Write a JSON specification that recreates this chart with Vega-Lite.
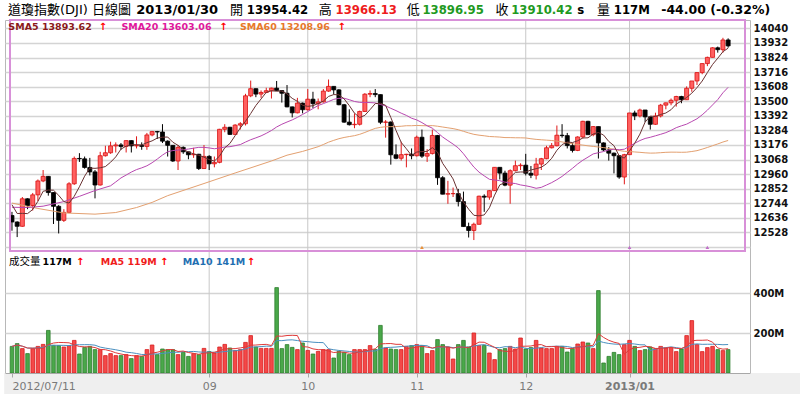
{
"$schema":"https://vega.github.io/schema/vega-lite/v6.json",
"autosize":{"type":"none"},
"width":745,"height":353,
"padding":{"left":5,"top":20,"right":50,"bottom":21},
"background":"#ffffff",
"config":{"view":{"stroke":"#b8b8b8","strokeWidth":1,"fill":"#ffffff"},"font":"DejaVu Sans, Noto Sans CJK TC, sans-serif","text":{"align":"left","baseline":"alphabetic","font":"DejaVu Sans, Noto Sans CJK TC, sans-serif"}},
"datasets":{"k":[
{"d":"2012-07-11","i":0,"o":12653,"h":12680,"l":12540,"c":12605,"v":133,"s5":12732.6,"s20":12714,"s60":12745,"m5":133,"m10":133},
{"d":"2012-07-12","i":1,"o":12605,"h":12610,"l":12493,"c":12573,"v":147,"s5":12667.8,"m5":140,"m10":140},
{"d":"2012-07-13","i":2,"o":12573,"h":12790,"l":12570,"c":12777,"v":122,"s5":12668.8,"m5":134,"m10":134},
{"d":"2012-07-16","i":3,"o":12777,"h":12780,"l":12700,"c":12727,"v":97,"s5":12667,"s20":12712,"m5":124.8,"m10":124.8},
{"d":"2012-07-17","i":4,"o":12727,"h":12820,"l":12690,"c":12806,"v":122,"s5":12697.6,"m5":124.2,"m10":124.2},
{"d":"2012-07-18","i":5,"o":12806,"h":12920,"l":12760,"c":12909,"v":133,"s5":12758.4,"s60":12705,"m5":124.2,"m10":125.7},
{"d":"2012-07-19","i":6,"o":12909,"h":12990,"l":12900,"c":12943,"v":143,"s5":12832.4,"s20":12722,"m5":123.4,"m10":128.1},
{"d":"2012-07-20","i":7,"o":12943,"h":12945,"l":12800,"c":12823,"v":213,"s5":12841.6,"m5":141.6,"m10":138.8},
{"d":"2012-07-23","i":8,"o":12823,"h":12825,"l":12590,"c":12721,"v":138,"s5":12840.4,"m5":149.8,"m10":138.7},
{"d":"2012-07-24","i":9,"o":12721,"h":12730,"l":12520,"c":12617,"v":137,"s5":12802.6,"m5":152.8,"m10":138.5},
{"d":"2012-07-25","i":10,"o":12617,"h":12700,"l":12605,"c":12676,"v":130,"s5":12756,"s20":12756,"s60":12672,"m5":152.2,"m10":138.2},
{"d":"2012-07-26","i":11,"o":12676,"h":12900,"l":12670,"c":12888,"v":137,"s5":12745,"m5":151,"m10":137.2},
{"d":"2012-07-27","i":12,"o":12888,"h":13090,"l":12880,"c":13076,"v":163,"s5":12795.6,"m5":141,"m10":141.3},
{"d":"2012-07-30","i":13,"o":13076,"h":13115,"l":13050,"c":13073,"v":95,"s5":12866,"s20":12795,"m5":132.4,"m10":141.1},
{"d":"2012-07-31","i":14,"o":13073,"h":13090,"l":13000,"c":13009,"v":128,"s5":12944.4,"m5":130.6,"m10":141.7},
{"d":"2012-08-01","i":15,"o":13009,"h":13080,"l":12950,"c":12976,"v":133,"s5":13004.4,"m5":131.2,"m10":141.7},
{"d":"2012-08-02","i":16,"o":12976,"h":12990,"l":12780,"c":12879,"v":117,"s5":13002.6,"s20":12838,"s60":12663,"m5":127.2,"m10":139.1},
{"d":"2012-08-03","i":17,"o":12879,"h":13125,"l":12875,"c":13096,"v":117,"s5":13006.6,"m5":118,"m10":129.5},
{"d":"2012-08-06","i":18,"o":13096,"h":13170,"l":13090,"c":13118,"v":87,"s5":13015.6,"m5":116.4,"m10":124.4},
{"d":"2012-08-07","i":19,"o":13118,"h":13200,"l":13110,"c":13169,"v":97,"s5":13047.6,"s20":12873.1,"m5":110.2,"m10":120.4},
{"d":"2012-08-08","i":20,"o":13169,"h":13195,"l":13120,"c":13176,"v":87,"s5":13087.6,"s20":12901.6,"s60":12675,"m5":101,"m10":116.1},
{"d":"2012-08-09","i":21,"o":13176,"h":13190,"l":13140,"c":13165,"v":87,"s5":13144.8,"s20":12931.2,"m5":95,"m10":111.1},
{"d":"2012-08-10","i":22,"o":13165,"h":13210,"l":13120,"c":13208,"v":92,"s5":13167.2,"s20":12952.8,"m5":90,"m10":104},
{"d":"2012-08-13","i":23,"o":13208,"h":13210,"l":13120,"c":13169,"v":72,"s5":13177.4,"s20":12974.9,"m5":87,"m10":101.7},
{"d":"2012-08-14","i":24,"o":13169,"h":13240,"l":13150,"c":13172,"v":87,"s5":13178,"s20":12993.2,"s60":12712,"m5":85,"m10":97.6},
{"d":"2012-08-15","i":25,"o":13172,"h":13195,"l":13140,"c":13165,"v":83,"s5":13175.8,"s20":13006,"m5":84.2,"m10":92.6},
{"d":"2012-08-16","i":26,"o":13165,"h":13265,"l":13140,"c":13250,"v":117,"s5":13192.8,"s20":13021.3,"m5":90.2,"m10":92.6},
{"d":"2012-08-17","i":27,"o":13250,"h":13280,"l":13240,"c":13275,"v":140,"s5":13206.2,"s20":13043.9,"s60":12750,"m5":99.8,"m10":94.9},
{"d":"2012-08-20","i":28,"o":13275,"h":13280,"l":13220,"c":13272,"v":92,"s5":13226.8,"s20":13071.5,"m5":103.8,"m10":95.4},
{"d":"2012-08-21","i":29,"o":13272,"h":13330,"l":13190,"c":13204,"v":120,"s5":13233.2,"s20":13100.8,"m5":110.4,"m10":97.7},
{"d":"2012-08-22","i":30,"o":13204,"h":13210,"l":13090,"c":13173,"v":117,"s5":13234.8,"s20":13125.7,"s60":12800,"m5":117.2,"m10":100.7},
{"d":"2012-08-23","i":31,"o":13173,"h":13175,"l":13050,"c":13057,"v":117,"s5":13196.2,"s20":13134.1,"m5":117.2,"m10":103.7},
{"d":"2012-08-24","i":32,"o":13057,"h":13175,"l":12990,"c":13158,"v":92,"s5":13172.8,"s20":13138.2,"m5":107.6,"m10":103.7},
{"d":"2012-08-27","i":33,"o":13158,"h":13165,"l":13110,"c":13125,"v":103,"s5":13143.4,"s20":13140.8,"m5":109.8,"m10":106.8},
{"d":"2012-08-28","i":34,"o":13125,"h":13125,"l":13070,"c":13103,"v":83,"s5":13123.2,"s20":13145.5,"m5":102.4,"m10":106.4},
{"d":"2012-08-29","i":35,"o":13103,"h":13155,"l":13080,"c":13107,"v":97,"s5":13110,"s20":13152,"m5":98.4,"m10":107.8},
{"d":"2012-08-30","i":36,"o":13107,"h":13110,"l":12990,"c":13001,"v":92,"s5":13098.8,"s20":13158.2,"m5":93.4,"m10":105.3},
{"d":"2012-08-31","i":37,"o":13001,"h":13175,"l":13000,"c":13091,"v":123,"s5":13085.4,"s20":13157.9,"s60":12890,"m5":99.6,"m10":103.6},
{"d":"2012-09-04","i":38,"o":13091,"h":13100,"l":12990,"c":13036,"v":107,"s5":13067.6,"s20":13153.8,"m5":100.4,"m10":105.1},
{"d":"2012-09-05","i":39,"o":13036,"h":13090,"l":13010,"c":13047,"v":100,"s5":13056.4,"s20":13147.7,"m5":103.8,"m10":103.1},
{"d":"2012-09-06","i":40,"o":13047,"h":13295,"l":13040,"c":13292,"v":130,"s5":13093.4,"s20":13153.5,"m5":110.4,"m10":104.4},
{"d":"2012-09-07","i":41,"o":13292,"h":13330,"l":13270,"c":13307,"v":143,"s5":13154.6,"s20":13160.6,"m5":120.6,"m10":107},
{"d":"2012-09-10","i":42,"o":13307,"h":13310,"l":13250,"c":13254,"v":125,"s5":13187.2,"s20":13162.9,"m5":121,"m10":110.3},
{"d":"2012-09-11","i":43,"o":13254,"h":13330,"l":13250,"c":13323,"v":112,"s5":13244.6,"s20":13170.6,"s60":12968,"m5":122,"m10":111.2},
{"d":"2012-09-12","i":44,"o":13323,"h":13345,"l":13290,"c":13333,"v":117,"s5":13301.8,"s20":13178.7,"m5":125.4,"m10":114.6},
{"d":"2012-09-13","i":45,"o":13333,"h":13555,"l":13320,"c":13540,"v":153,"s5":13351.4,"s20":13197.4,"m5":130,"m10":120.2},
{"d":"2012-09-14","i":46,"o":13540,"h":13653,"l":13530,"c":13593,"v":187,"s5":13408.6,"s20":13214.6,"m5":138.8,"m10":129.7},
{"d":"2012-09-17","i":47,"o":13593,"h":13595,"l":13530,"c":13553,"v":130,"s5":13468.4,"s20":13228.5,"m5":139.8,"m10":130.4},
{"d":"2012-09-18","i":48,"o":13553,"h":13580,"l":13525,"c":13565,"v":123,"s5":13516.8,"s20":13243.1,"m5":142,"m10":132},
{"d":"2012-09-19","i":49,"o":13565,"h":13600,"l":13560,"c":13578,"v":123,"s5":13565.8,"s20":13261.8,"m5":143.2,"m10":134.3},
{"d":"2012-09-20","i":50,"o":13578,"h":13600,"l":13520,"c":13597,"v":123,"s5":13577.2,"s20":13283,"s60":13057,"m5":137.2,"m10":133.6},
{"d":"2012-09-21","i":51,"o":13597,"h":13650,"l":13575,"c":13579,"v":427,"s5":13574.4,"s20":13309.1,"m5":185.2,"m10":162},
{"d":"2012-09-24","i":52,"o":13579,"h":13580,"l":13490,"c":13559,"v":122,"s5":13575.6,"s20":13329.2,"m5":183.6,"m10":161.7},
{"d":"2012-09-25","i":53,"o":13559,"h":13620,"l":13455,"c":13458,"v":142,"s5":13554.2,"s20":13345.8,"s60":13100,"m5":187.4,"m10":164.7},
{"d":"2012-09-26","i":54,"o":13458,"h":13460,"l":13380,"c":13414,"v":128,"s5":13521.4,"s20":13361.4,"m5":188.4,"m10":165.8},
{"d":"2012-09-27","i":55,"o":13414,"h":13525,"l":13410,"c":13486,"v":117,"s5":13499.2,"s20":13380.3,"m5":187.2,"m10":162.2},
{"d":"2012-09-28","i":56,"o":13486,"h":13490,"l":13410,"c":13437,"v":150,"s5":13470.8,"s20":13402.1,"s60":13128,"m5":131.8,"m10":158.5},
{"d":"2012-10-01","i":57,"o":13437,"h":13590,"l":13430,"c":13515,"v":113,"s5":13462,"s20":13423.3,"m5":130,"m10":156.8},
{"d":"2012-10-02","i":58,"o":13515,"h":13570,"l":13450,"c":13482,"v":95,"s5":13466.8,"s20":13445.6,"m5":120.6,"m10":154},
{"d":"2012-10-03","i":59,"o":13482,"h":13520,"l":13440,"c":13495,"v":108,"s5":13483,"s20":13468,"s60":13162.9,"m5":116.6,"m10":152.5},
{"d":"2012-10-04","i":60,"o":13495,"h":13590,"l":13490,"c":13575,"v":117,"s5":13500.8,"s20":13482.2,"s60":13179.1,"m5":116.6,"m10":151.9},
{"d":"2012-10-05","i":61,"o":13575,"h":13661,"l":13570,"c":13610,"v":117,"s5":13535.4,"s20":13497.3,"s60":13196.4,"m5":110,"m10":120.9},
{"d":"2012-10-08","i":62,"o":13610,"h":13610,"l":13550,"c":13584,"v":75,"s5":13549.2,"s20":13513.8,"s60":13209.8,"m5":102.4,"m10":116.2},
{"d":"2012-10-09","i":63,"o":13584,"h":13590,"l":13470,"c":13474,"v":108,"s5":13547.6,"s20":13521.4,"s60":13222.3,"m5":105,"m10":112.8},
{"d":"2012-10-10","i":64,"o":13474,"h":13480,"l":13340,"c":13345,"v":103,"s5":13517.6,"s20":13522,"s60":13231.3,"m5":104,"m10":110.3},
{"d":"2012-10-11","i":65,"o":13345,"h":13440,"l":13320,"c":13326,"v":92,"s5":13467.8,"s20":13511.3,"s60":13238.2,"m5":99,"m10":107.8},
{"d":"2012-10-12","i":66,"o":13326,"h":13410,"l":13300,"c":13329,"v":117,"s5":13411.6,"s20":13498.1,"s60":13244.6,"m5":99,"m10":104.5},
{"d":"2012-10-15","i":67,"o":13329,"h":13430,"l":13320,"c":13424,"v":117,"s5":13379.6,"s20":13491.6,"s60":13254.7,"m5":107.4,"m10":104.9},
{"d":"2012-10-16","i":68,"o":13424,"h":13560,"l":13420,"c":13552,"v":117,"s5":13395.2,"s20":13491,"s60":13268.5,"m5":109.2,"m10":107.1},
{"d":"2012-10-17","i":69,"o":13552,"h":13580,"l":13530,"c":13557,"v":137,"s5":13437.6,"s20":13489.9,"s60":13284.2,"m5":116,"m10":110},
{"d":"2012-10-18","i":70,"o":13557,"h":13590,"l":13530,"c":13549,"v":117,"s5":13482.2,"s20":13487.5,"s60":13298.7,"m5":121,"m10":110},
{"d":"2012-10-19","i":71,"o":13549,"h":13550,"l":13330,"c":13344,"v":238,"s5":13485.2,"s20":13475.8,"s60":13306.3,"m5":145.2,"m10":122.1},
{"d":"2012-10-22","i":72,"o":13344,"h":13360,"l":13230,"c":13346,"v":125,"s5":13469.6,"s20":13465.1,"s60":13310.8,"m5":146.8,"m10":127.1},
{"d":"2012-10-23","i":73,"o":13346,"h":13350,"l":13030,"c":13103,"v":120,"s5":13379.8,"s20":13447.4,"s60":13311.3,"m5":147.4,"m10":128.3},
{"d":"2012-10-24","i":74,"o":13103,"h":13180,"l":13070,"c":13077,"v":117,"s5":13283.8,"s20":13430.5,"s60":13312.5,"m5":143.4,"m10":129.7},
{"d":"2012-10-25","i":75,"o":13077,"h":13200,"l":13060,"c":13104,"v":117,"s5":13194.8,"s20":13411.4,"s60":13314.6,"m5":143.4,"m10":132.2},
{"d":"2012-10-26","i":76,"o":13104,"h":13110,"l":13010,"c":13107,"v":133,"s5":13147.4,"s20":13394.9,"s60":13318.4,"m5":122.4,"m10":133.8},
{"d":"2012-10-31","i":77,"o":13107,"h":13150,"l":13070,"c":13096,"v":137,"s5":13097.4,"s20":13374,"s60":13318.4,"m5":124.8,"m10":135.8},
{"d":"2012-11-01","i":78,"o":13096,"h":13245,"l":13090,"c":13233,"v":142,"s5":13123.4,"s20":13361.5,"s60":13320.3,"m5":129.2,"m10":138.3},
{"d":"2012-11-02","i":79,"o":13233,"h":13290,"l":13080,"c":13093,"v":137,"s5":13126.6,"s20":13341.4,"s60":13319,"m5":133.2,"m10":138.3},
{"d":"2012-11-05","i":80,"o":13093,"h":13145,"l":13050,"c":13112,"v":97,"s5":13128.2,"s20":13318.3,"s60":13318,"m5":129.2,"m10":136.3},
{"d":"2012-11-06","i":81,"o":13112,"h":13290,"l":13105,"c":13246,"v":112,"s5":13156,"s20":13300.1,"s60":13319.3,"m5":125,"m10":123.7},
{"d":"2012-11-07","i":82,"o":13246,"h":13250,"l":12880,"c":12933,"v":167,"s5":13123.4,"s20":13267.5,"s60":13314.7,"m5":131,"m10":127.9},
{"d":"2012-11-08","i":83,"o":12933,"h":12945,"l":12810,"c":12811,"v":142,"s5":13039,"s20":13234.4,"s60":13308.8,"m5":131,"m10":130.1},
{"d":"2012-11-09","i":84,"o":12811,"h":12910,"l":12740,"c":12815,"v":130,"s5":12983.4,"s20":13207.9,"s60":13302.8,"m5":129.6,"m10":131.4},
{"d":"2012-11-12","i":85,"o":12815,"h":12860,"l":12790,"c":12815,"v":70,"s5":12924,"s20":13182.3,"s60":13297,"m5":124.2,"m10":126.7},
{"d":"2012-11-13","i":86,"o":12815,"h":12850,"l":12720,"c":12756,"v":142,"s5":12826,"s20":13153.7,"s60":13288.8,"m5":130.2,"m10":127.6},
{"d":"2012-11-14","i":87,"o":12756,"h":12830,"l":12570,"c":12571,"v":163,"s5":12753.6,"s20":13111,"s60":13277,"m5":129.4,"m10":130.2},
{"d":"2012-11-15","i":88,"o":12571,"h":12600,"l":12490,"c":12542,"v":130,"s5":12699.8,"s20":13060.5,"s60":13264.9,"m5":127,"m10":129},
{"d":"2012-11-16","i":89,"o":12542,"h":12600,"l":12471,"c":12588,"v":200,"s5":12654.4,"s20":13012.1,"s60":13254.6,"m5":141,"m10":135.3},
{"d":"2012-11-19","i":90,"o":12588,"h":12800,"l":12585,"c":12796,"v":137,"s5":12650.6,"s20":12974.4,"s60":13248.3,"m5":154.4,"m10":139.3},
{"d":"2012-11-20","i":91,"o":12796,"h":12810,"l":12680,"c":12789,"v":138,"s5":12657.2,"s20":12946.7,"s60":13243.8,"m5":153.6,"m10":141.9},
{"d":"2012-11-21","i":92,"o":12789,"h":12840,"l":12770,"c":12837,"v":100,"s5":12710.4,"s20":12921.2,"s60":13238.5,"m5":141,"m10":135.2},
{"d":"2012-11-23","i":93,"o":12837,"h":13010,"l":12835,"c":13010,"v":67,"s5":12804,"s20":12916.6,"s60":13236.6,"m5":128.4,"m10":127.7},
{"d":"2012-11-26","i":94,"o":13010,"h":13010,"l":12920,"c":12967,"v":117,"s5":12879.8,"s20":12911.1,"s60":13234.3,"m5":111.8,"m10":126.4},
{"d":"2012-11-27","i":95,"o":12967,"h":12985,"l":12870,"c":12878,"v":122,"s5":12896.2,"s20":12899.8,"s60":13230.5,"m5":108.8,"m10":131.6},
{"d":"2012-11-28","i":96,"o":12878,"h":12995,"l":12740,"c":12985,"v":133,"s5":12935.4,"s20":12893.7,"s60":13230.2,"m5":107.8,"m10":130.7},
{"d":"2012-11-29","i":97,"o":12985,"h":13060,"l":12980,"c":13022,"v":120,"s5":12972.4,"s20":12890,"s60":13229.1,"m5":111.8,"m10":126.4},
{"d":"2012-11-30","i":98,"o":13022,"h":13040,"l":12990,"c":13026,"v":175,"s5":12975.6,"s20":12879.6,"s60":13228.9,"m5":133.4,"m10":130.9},
{"d":"2012-12-03","i":99,"o":13026,"h":13110,"l":12950,"c":12966,"v":120,"s5":12975.4,"s20":12873.3,"s60":13227.6,"m5":134,"m10":122.9},
{"d":"2012-12-04","i":100,"o":12966,"h":13020,"l":12930,"c":12952,"v":127,"s5":12990.2,"s20":12865.3,"s60":13221.9,"m5":135,"m10":121.9},
{"d":"2012-12-05","i":101,"o":12952,"h":13080,"l":12920,"c":13034,"v":163,"s5":13000,"s20":12854.7,"s60":13217.3,"m5":141,"m10":124.4},
{"d":"2012-12-06","i":102,"o":13034,"h":13080,"l":12990,"c":13074,"v":125,"s5":13010.4,"s20":12861.7,"s60":13214.3,"m5":142,"m10":126.9},
{"d":"2012-12-07","i":103,"o":13074,"h":13170,"l":13070,"c":13155,"v":122,"s5":13036.2,"s20":12878.9,"s60":13211.5,"m5":131.4,"m10":132.4},
{"d":"2012-12-10","i":104,"o":13155,"h":13190,"l":13150,"c":13170,"v":122,"s5":13077,"s20":12896.7,"s60":13208.8,"m5":131.8,"m10":132.9},
{"d":"2012-12-11","i":105,"o":13170,"h":13320,"l":13165,"c":13248,"v":133,"s5":13136.2,"s20":12918.3,"s60":13204,"m5":133,"m10":134},
{"d":"2012-12-12","i":106,"o":13248,"h":13330,"l":13230,"c":13245,"v":133,"s5":13178.4,"s20":12942.8,"s60":13198.2,"m5":127,"m10":134},
{"d":"2012-12-13","i":107,"o":13245,"h":13265,"l":13150,"c":13171,"v":105,"s5":13197.8,"s20":12972.8,"s60":13191.8,"m5":123,"m10":132.5},
{"d":"2012-12-14","i":108,"o":13171,"h":13190,"l":13120,"c":13135,"v":122,"s5":13193.8,"s20":13002.4,"s60":13184.6,"m5":123,"m10":127.2},
{"d":"2012-12-17","i":109,"o":13135,"h":13240,"l":13130,"c":13235,"v":145,"s5":13206.8,"s20":13034.8,"s60":13178.9,"m5":127.6,"m10":129.7},
{"d":"2012-12-18","i":110,"o":13235,"h":13355,"l":13225,"c":13351,"v":155,"s5":13227.4,"s20":13062.5,"s60":13174.8,"m5":132,"m10":132.5},
{"d":"2012-12-19","i":111,"o":13351,"h":13355,"l":13250,"c":13252,"v":150,"s5":13228.8,"s20":13085.7,"s60":13169.4,"m5":135.4,"m10":131.2},
{"d":"2012-12-20","i":112,"o":13252,"h":13315,"l":13240,"c":13312,"v":122,"s5":13257,"s20":13109.4,"s60":13165.2,"m5":138.8,"m10":130.9},
{"d":"2012-12-21","i":113,"o":13312,"h":13312,"l":13075,"c":13191,"v":412,"s5":13268.2,"s20":13118.5,"s60":13160.8,"m5":196.8,"m10":159.9},
{"d":"2012-12-24","i":114,"o":13191,"h":13195,"l":13130,"c":13139,"v":50,"s5":13249,"s20":13127.1,"s60":13156.2,"m5":177.8,"m10":152.7},
{"d":"2012-12-26","i":115,"o":13139,"h":13160,"l":13060,"c":13115,"v":83,"s5":13201.8,"s20":13138.9,"s60":13150,"m5":163.4,"m10":147.7},
{"d":"2012-12-27","i":116,"o":13115,"h":13120,"l":12965,"c":13096,"v":103,"s5":13170.6,"s20":13144.5,"s60":13144.3,"m5":154,"m10":144.7},
{"d":"2012-12-28","i":117,"o":13096,"h":13100,"l":12925,"c":12938,"v":92,"s5":13095.8,"s20":13140.3,"s60":13134.7,"m5":148,"m10":143.4},
{"d":"2012-12-31","i":118,"o":12938,"h":13110,"l":12884,"c":13104,"v":142,"s5":13078.4,"s20":13144.2,"s60":13128.4,"m5":94,"m10":145.4},
{"d":"2013-01-02","i":119,"o":13104,"h":13413,"l":13104,"c":13413,"v":163,"s5":13133.2,"s20":13166.5,"s60":13127.1,"m5":116.6,"m10":147.2},
{"d":"2013-01-03","i":120,"o":13413,"h":13430,"l":13360,"c":13391,"v":133,"s5":13188.4,"s20":13188.5,"s60":13124,"m5":126.6,"m10":145},
{"d":"2013-01-04","i":121,"o":13391,"h":13445,"l":13380,"c":13435,"v":112,"s5":13256.2,"s20":13208.5,"s60":13121.1,"m5":128.4,"m10":141.2},
{"d":"2013-01-07","i":122,"o":13435,"h":13435,"l":13345,"c":13384,"v":117,"s5":13345.4,"s20":13224,"s60":13117.7,"m5":133.4,"m10":140.7},
{"d":"2013-01-08","i":123,"o":13384,"h":13385,"l":13290,"c":13329,"v":130,"s5":13390.4,"s20":13232.7,"s60":13115.3,"m5":131,"m10":112.5},
{"d":"2013-01-09","i":124,"o":13329,"h":13415,"l":13325,"c":13391,"v":122,"s5":13386,"s20":13243.8,"s60":13116.1,"m5":122.8,"m10":119.7},
{"d":"2013-01-10","i":125,"o":13391,"h":13480,"l":13380,"c":13471,"v":133,"s5":13402,"s20":13254.9,"s60":13118.5,"m5":122.8,"m10":124.7},
{"d":"2013-01-11","i":126,"o":13471,"h":13490,"l":13440,"c":13488,"v":125,"s5":13412.6,"s20":13267.1,"s60":13121.2,"m5":125.4,"m10":126.9},
{"d":"2013-01-14","i":127,"o":13488,"h":13520,"l":13470,"c":13507,"v":128,"s5":13437.2,"s20":13283.9,"s60":13122.5,"m5":127.6,"m10":130.5},
{"d":"2013-01-15","i":128,"o":13507,"h":13540,"l":13460,"c":13535,"v":107,"s5":13478.4,"s20":13303.9,"s60":13122.3,"m5":123,"m10":127},
{"d":"2013-01-16","i":129,"o":13535,"h":13540,"l":13485,"c":13511,"v":120,"s5":13502.4,"s20":13317.7,"s60":13121.5,"m5":122.6,"m10":122.7},
{"d":"2013-01-17","i":130,"o":13511,"h":13610,"l":13510,"c":13596,"v":187,"s5":13527.4,"s20":13329.9,"s60":13122.3,"m5":133.4,"m10":128.1},
{"d":"2013-01-18","i":131,"o":13596,"h":13650,"l":13570,"c":13650,"v":262,"s5":13559.8,"s20":13349.8,"s60":13127.4,"m5":160.8,"m10":143.1},
{"d":"2013-01-22","i":132,"o":13650,"h":13715,"l":13620,"c":13712,"v":142,"s5":13600.8,"s20":13369.8,"s60":13133.5,"m5":163.6,"m10":145.6},
{"d":"2013-01-23","i":133,"o":13712,"h":13780,"l":13700,"c":13779,"v":107,"s5":13649.6,"s20":13399.2,"s60":13144.7,"m5":163.6,"m10":143.3},
{"d":"2013-01-24","i":134,"o":13779,"h":13830,"l":13760,"c":13825,"v":127,"s5":13712.4,"s20":13433.5,"s60":13157.2,"m5":165,"m10":143.8},
{"d":"2013-01-25","i":135,"o":13825,"h":13900,"l":13825,"c":13896,"v":133,"s5":13772.4,"s20":13472.6,"s60":13170.4,"m5":154.2,"m10":143.8},
{"d":"2013-01-28","i":136,"o":13896,"h":13905,"l":13860,"c":13882,"v":117,"s5":13818.8,"s20":13511.9,"s60":13183.3,"m5":125.2,"m10":143},
{"d":"2013-01-29","i":137,"o":13882,"h":13970,"l":13860,"c":13954,"v":112,"s5":13867.2,"s20":13562.7,"s60":13197.6,"m5":119.2,"m10":141.4},
{"d":"2013-01-30","i":138,"o":13954,"h":13966,"l":13897,"c":13910,"v":117,"s5":13893.4,"s20":13603,"s60":13209,"m5":121.2,"m10":142.4}
]},
"data":{"name":"k"},
"resolve":{"scale":{"y":"independent"}},
"layer":[
{"layer":[
  {"data":{"values":[{"m":"2012-09","i":38},{"m":"2012-10","i":57},{"m":"2012-11","i":78},{"m":"2012-12","i":99},{"m":"2013-01","i":119}]},
   "mark":{"type":"rule","color":"#c8c8c8","strokeWidth":1},"encoding":{"x":{"field":"i","type":"quantitative"}}},
  {"mark":{"type":"rule","strokeWidth":1},
   "encoding":{
    "x":{"field":"i","type":"quantitative","scale":{"domain":[-0.38,141.25],"nice":false,"zero":false},
      "axis":{"orient":"bottom","values":[0,38,57,78,99,119],"tickCount":40,"title":null,"zindex":1,
        "labelExpr":"datum.value == 0 ? '2012/07/11' : datum.value == 38 ? '09' : datum.value == 57 ? '10' : datum.value == 78 ? '11' : datum.value == 99 ? '12' : '2013/01'",
        "grid":false,
        "domainColor":"#a8a8a8","tickColor":"#a8a8a8","tickSize":4,"labelColor":"#7a7a7a","labelFontSize":11,"labelPadding":3,
        "labelFontWeight":{"condition":{"test":"datum.value == 119","value":"bold"},"value":"normal"},
        "labelAlign":{"condition":{"test":"datum.value == 0","value":"left"},"value":"center"},
        "labelFlush":false,"labelOverlap":false}},
    "y":{"field":"l","type":"quantitative","scale":{"domain":[11485.6,14102],"nice":false,"zero":false},
      "axis":{"orient":"right","values":[12420,12528,12636,12744,12852,12960,13068,13176,13284,13392,13500,13608,13716,13824,13932,14040],"tickCount":40,
        "labelExpr":"datum.value < 12500 ? '' : format(datum.value, 'd')","title":null,"domain":false,"ticks":false,"labelPadding":3,
        "labelFontSize":10,"labelFontWeight":"bold","labelColor":"#111111","grid":true,"gridColor":"#d4d4d4","gridWidth":1.5,"labelFlush":false,"labelOverlap":false}},
    "y2":{"field":"h"},
    "color":{"condition":{"test":"datum.c >= datum.o","value":"#e01818"},"value":"#000000"}}},
  {"mark":{"type":"bar","size":4,"strokeWidth":0.8},
   "encoding":{"x":{"field":"i","type":"quantitative"},"y":{"field":"o","type":"quantitative"},"y2":{"field":"c"},
    "fill":{"condition":{"test":"datum.c >= datum.o","value":"#ff6060"},"value":"#000000"},
    "stroke":{"condition":{"test":"datum.c >= datum.o","value":"#d81010"},"value":"#000000"}}},
  {"transform":[{"filter":"isValid(datum.s60)"}],"mark":{"type":"line","strokeWidth":1,"color":"#e3a070"},"encoding":{"x":{"field":"i","type":"quantitative"},"y":{"field":"s60","type":"quantitative"}}},
  {"transform":[{"filter":"isValid(datum.s20)"}],"mark":{"type":"line","strokeWidth":1,"color":"#b848b0"},"encoding":{"x":{"field":"i","type":"quantitative"},"y":{"field":"s20","type":"quantitative"}}},
  {"mark":{"type":"line","strokeWidth":1,"color":"#6a3232"},"encoding":{"x":{"field":"i","type":"quantitative"},"y":{"field":"s5","type":"quantitative"}}},
  {"data":{"values":[{"i":79,"k":"o"},{"i":119,"k":"p"},{"i":134,"k":"p"}]},
   "mark":{"type":"point","shape":"triangle-up","filled":true,"size":14,"opacity":1},
   "encoding":{"x":{"field":"i","type":"quantitative"},"y":{"datum":12416,"type":"quantitative"},
    "color":{"condition":{"test":"datum.k == 'o'","value":"#e8903a"},"value":"#c070c8"}}},
  {"data":{"values":[{"t":"frame"}]},"mark":{"type":"rect","fillOpacity":0,"stroke":"#d890d8","strokeWidth":2},
   "encoding":{"x":{"datum":-0.38,"type":"quantitative"},"x2":{"datum":141.25},"y":{"datum":14102,"type":"quantitative"},"y2":{"datum":12389}}},
  {"data":{"values":[{"t":"道瓊指數(DJI)"}]},"mark":{"type":"text","fontSize":13,"color":"#000000"},"encoding":{"x":{"datum":-0.76,"type":"quantitative"},"y":{"datum":14144,"type":"quantitative"},"text":{"field":"t"}}},
  {"data":{"values":[{"t":"日線圖"}]},"mark":{"type":"text","fontSize":13,"color":"#000000"},"encoding":{"x":{"datum":15.4,"type":"quantitative"},"y":{"datum":14144,"type":"quantitative"},"text":{"field":"t"}}},
  {"data":{"values":[{"t":"2013/01/30"}]},"mark":{"type":"text","fontSize":13,"fontWeight":"bold","color":"#000000"},"encoding":{"x":{"datum":23.95,"type":"quantitative"},"y":{"datum":14144,"type":"quantitative"},"text":{"field":"t"}}},
  {"data":{"values":[{"t":"開"}]},"mark":{"type":"text","fontSize":13,"color":"#000000"},"encoding":{"x":{"datum":42.02,"type":"quantitative"},"y":{"datum":14144,"type":"quantitative"},"text":{"field":"t"}}},
  {"data":{"values":[{"t":"13954.42"}]},"mark":{"type":"text","fontSize":11.7,"fontWeight":"bold","color":"#000000"},"encoding":{"x":{"datum":45.25,"type":"quantitative"},"y":{"datum":14144,"type":"quantitative"},"text":{"field":"t"}}},
  {"data":{"values":[{"t":"高"}]},"mark":{"type":"text","fontSize":13,"color":"#000000"},"encoding":{"x":{"datum":59.13,"type":"quantitative"},"y":{"datum":14144,"type":"quantitative"},"text":{"field":"t"}}},
  {"data":{"values":[{"t":"13966.13"}]},"mark":{"type":"text","fontSize":11.7,"fontWeight":"bold","color":"#ee1c1c"},"encoding":{"x":{"datum":62.36,"type":"quantitative"},"y":{"datum":14144,"type":"quantitative"},"text":{"field":"t"}}},
  {"data":{"values":[{"t":"低"}]},"mark":{"type":"text","fontSize":13,"color":"#000000"},"encoding":{"x":{"datum":76.05,"type":"quantitative"},"y":{"datum":14144,"type":"quantitative"},"text":{"field":"t"}}},
  {"data":{"values":[{"t":"13896.95"}]},"mark":{"type":"text","fontSize":11.7,"fontWeight":"bold","color":"#1f9a1f"},"encoding":{"x":{"datum":79.09,"type":"quantitative"},"y":{"datum":14144,"type":"quantitative"},"text":{"field":"t"}}},
  {"data":{"values":[{"t":"收"}]},"mark":{"type":"text","fontSize":13,"color":"#000000"},"encoding":{"x":{"datum":93.16,"type":"quantitative"},"y":{"datum":14144,"type":"quantitative"},"text":{"field":"t"}}},
  {"data":{"values":[{"t":"13910.42"}]},"mark":{"type":"text","fontSize":11.7,"fontWeight":"bold","color":"#1f9a1f"},"encoding":{"x":{"datum":96.2,"type":"quantitative"},"y":{"datum":14144,"type":"quantitative"},"text":{"field":"t"}}},
  {"data":{"values":[{"t":"s"}]},"mark":{"type":"text","fontSize":11.7,"fontWeight":"bold","color":"#000000"},"encoding":{"x":{"datum":108.94,"type":"quantitative"},"y":{"datum":14144,"type":"quantitative"},"text":{"field":"t"}}},
  {"data":{"values":[{"t":"量"}]},"mark":{"type":"text","fontSize":13,"color":"#000000"},"encoding":{"x":{"datum":112.74,"type":"quantitative"},"y":{"datum":14144,"type":"quantitative"},"text":{"field":"t"}}},
  {"data":{"values":[{"t":"117M"}]},"mark":{"type":"text","fontSize":11.7,"fontWeight":"bold","color":"#000000"},"encoding":{"x":{"datum":115.97,"type":"quantitative"},"y":{"datum":14144,"type":"quantitative"},"text":{"field":"t"}}},
  {"data":{"values":[{"t":"-44.00 (-0.32%)"}]},"mark":{"type":"text","fontSize":12.5,"fontWeight":"bold","color":"#000000"},"encoding":{"x":{"datum":125.1,"type":"quantitative"},"y":{"datum":14144,"type":"quantitative"},"text":{"field":"t"}}},
  {"data":{"values":[{"t":"SMA5 13893.62"}]},"mark":{"type":"text","fontSize":9.5,"fontWeight":"bold","color":"#8b1a1a"},"encoding":{"x":{"datum":-0.7,"type":"quantitative"},"y":{"datum":14028,"type":"quantitative"},"text":{"field":"t"}}},
  {"data":{"values":[{"t":"↑"}]},"mark":{"type":"text","fontSize":10,"fontWeight":"bold","color":"#ff0000"},"encoding":{"x":{"datum":16.73,"type":"quantitative"},"y":{"datum":14028,"type":"quantitative"},"text":{"field":"t"}}},
  {"data":{"values":[{"t":"SMA20 13603.06"}]},"mark":{"type":"text","fontSize":9.5,"fontWeight":"bold","color":"#e0179b"},"encoding":{"x":{"datum":21.1,"type":"quantitative"},"y":{"datum":14028,"type":"quantitative"},"text":{"field":"t"}}},
  {"data":{"values":[{"t":"↑"}]},"mark":{"type":"text","fontSize":10,"fontWeight":"bold","color":"#ff0000"},"encoding":{"x":{"datum":39.92,"type":"quantitative"},"y":{"datum":14028,"type":"quantitative"},"text":{"field":"t"}}},
  {"data":{"values":[{"t":"SMA60 13208.96"}]},"mark":{"type":"text","fontSize":9.5,"fontWeight":"bold","color":"#e8782a"},"encoding":{"x":{"datum":43.92,"type":"quantitative"},"y":{"datum":14028,"type":"quantitative"},"text":{"field":"t"}}},
  {"data":{"values":[{"t":"↑"}]},"mark":{"type":"text","fontSize":10,"fontWeight":"bold","color":"#ff0000"},"encoding":{"x":{"datum":62.74,"type":"quantitative"},"y":{"datum":14028,"type":"quantitative"},"text":{"field":"t"}}}
 ]},
{"layer":[
  {"data":{"values":[{"t":"axis strip"}]},"mark":{"type":"rect","fill":"#efefef","strokeWidth":0},
   "encoding":{"x":{"datum":-1.5,"type":"quantitative"},"x2":{"datum":152},"y":{"datum":0,"type":"quantitative"},"y2":{"datum":-120}}},
  {"mark":{"type":"bar","size":3.6,"strokeWidth":0.8},
   "encoding":{"x":{"field":"i","type":"quantitative"},
    "y":{"field":"v","type":"quantitative","scale":{"domain":[0,1765],"nice":false,"zero":true},
      "axis":{"orient":"right","values":[200,400],"tickCount":40,"labelExpr":"datum.value + 'M'","title":null,"domain":false,"ticks":false,"labelPadding":3,
        "labelFontSize":10,"labelFontWeight":"bold","labelColor":"#111111","grid":true,"gridColor":"#d4d4d4","gridWidth":1.5,"labelFlush":false,"labelOverlap":false}},
    "fill":{"condition":{"test":"datum.c >= datum.o","value":"#f44848"},"value":"#4aa84a"},
    "stroke":{"condition":{"test":"datum.c >= datum.o","value":"#d82020"},"value":"#2e7d2e"}}},
  {"mark":{"type":"line","strokeWidth":1,"color":"#4a90c0"},"encoding":{"x":{"field":"i","type":"quantitative"},"y":{"field":"m10","type":"quantitative"}}},
  {"mark":{"type":"line","strokeWidth":1,"color":"#e03a3a"},"encoding":{"x":{"field":"i","type":"quantitative"},"y":{"field":"m5","type":"quantitative"}}},
  {"data":{"values":[{"t":"成交量"}]},"mark":{"type":"text","fontSize":10.5,"color":"#000000"},"encoding":{"x":{"datum":-0.57,"type":"quantitative"},"y":{"datum":540,"type":"quantitative"},"text":{"field":"t"}}},
  {"data":{"values":[{"t":"117M"}]},"mark":{"type":"text","fontSize":9.5,"fontWeight":"bold","color":"#000000"},"encoding":{"x":{"datum":5.89,"type":"quantitative"},"y":{"datum":540,"type":"quantitative"},"text":{"field":"t"}}},
  {"data":{"values":[{"t":"↑"}]},"mark":{"type":"text","fontSize":10,"fontWeight":"bold","color":"#ff0000"},"encoding":{"x":{"datum":12.36,"type":"quantitative"},"y":{"datum":540,"type":"quantitative"},"text":{"field":"t"}}},
  {"data":{"values":[{"t":"MA5 119M"}]},"mark":{"type":"text","fontSize":9.5,"fontWeight":"bold","color":"#f01c1c"},"encoding":{"x":{"datum":17.11,"type":"quantitative"},"y":{"datum":540,"type":"quantitative"},"text":{"field":"t"}}},
  {"data":{"values":[{"t":"↑"}]},"mark":{"type":"text","fontSize":10,"fontWeight":"bold","color":"#ff0000"},"encoding":{"x":{"datum":28.52,"type":"quantitative"},"y":{"datum":540,"type":"quantitative"},"text":{"field":"t"}}},
  {"data":{"values":[{"t":"MA10 141M"}]},"mark":{"type":"text","fontSize":9.5,"fontWeight":"bold","color":"#1f6fb2"},"encoding":{"x":{"datum":32.89,"type":"quantitative"},"y":{"datum":540,"type":"quantitative"},"text":{"field":"t"}}},
  {"data":{"values":[{"t":"↑"}]},"mark":{"type":"text","fontSize":10,"fontWeight":"bold","color":"#ff0000"},"encoding":{"x":{"datum":45.25,"type":"quantitative"},"y":{"datum":540,"type":"quantitative"},"text":{"field":"t"}}}
 ]}
]
}
